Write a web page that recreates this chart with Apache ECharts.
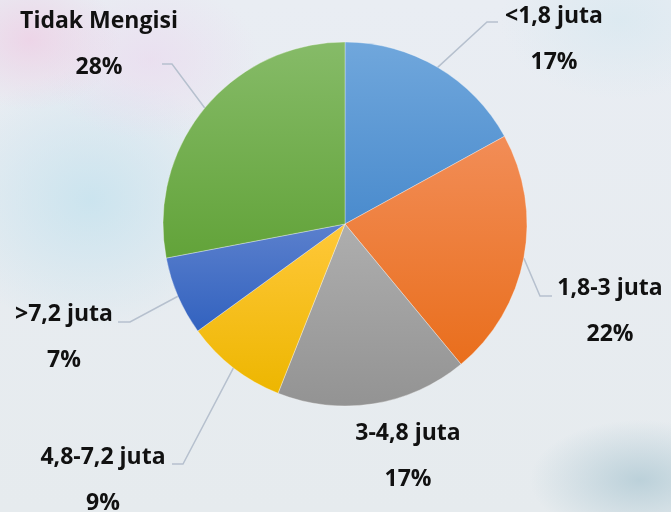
<!DOCTYPE html>
<html>
<head>
<meta charset="utf-8">
<script src="https://cdn.jsdelivr.net/npm/echarts@6/dist/echarts.min.js"></script>
<style>
  html, body { margin: 0; padding: 0; }
  body {
    width: 671px; height: 512px; overflow: hidden;
    background:
      radial-gradient(ellipse 90px 70px at 30px 40px, rgba(238, 205, 228, 0.75), rgba(238, 205, 228, 0) 100%),
      radial-gradient(ellipse 110px 80px at 150px 60px, rgba(235, 215, 238, 0.6), rgba(235, 215, 238, 0) 100%),
      radial-gradient(ellipse 150px 130px at 90px 200px, rgba(196, 226, 238, 0.8), rgba(196, 226, 238, 0) 100%),
      radial-gradient(ellipse 110px 60px at 640px 480px, rgba(180, 204, 214, 0.85), rgba(180, 204, 214, 0) 100%),
      radial-gradient(ellipse 120px 80px at 620px 20px, rgba(215, 232, 240, 0.7), rgba(215, 232, 240, 0) 100%),
      linear-gradient(#E9EDF3, #E6EBEE);
  }
  #chart { width: 671px; height: 512px; }
</style>
</head>
<body>
<div id="chart"></div>
<script>
// Pendapatan per bulan (share of respondents)
const categories = ['<1,8 juta', '1,8-3 juta', '3-4,8 juta', '4,8-7,2 juta', '>7,2 juta', 'Tidak Mengisi'];
const percentages = [17, 22, 17, 9, 7, 28];

// Office-style fills: lighter at the top of each slice, darker at the bottom
const topColors = ['#70A7DC', '#F28D57', '#AEAEAE', '#FFC83A', '#5B80CD', '#86BB68'];
const bottomColors = ['#4A8BCD', '#E96E1C', '#939393', '#EDB600', '#3262BF', '#62A339'];

// where each label block sits: centre x, centre of the first text line
const labelSpots = [[554, 17], [610, 289], [408, 434], [103, 458], [64, 315], [99, 22]];
// bend and end of each leader line (null = no leader line)
const leaderEnds = [
  [[487, 22], [498, 22]],
  [[540, 296], [552, 296]],
  null,
  [[183, 464], [172, 464]],
  [[130, 322], [118, 322]],
  [[172, 64], [162, 64]]
];

const chart = echarts.init(document.getElementById('chart'), null, { renderer: 'canvas' });

const pieData = categories.map((name, i) => ({
  name: name,
  value: percentages[i],
  itemStyle: {
    color: new echarts.graphic.LinearGradient(0, 0, 0, 1, [
      { offset: 0, color: topColors[i] },
      { offset: 1, color: bottomColors[i] }
    ])
  },
  labelLine: { show: leaderEnds[i] !== null }
}));

const textStyle = { fontFamily: 'Open Sans', fontWeight: 'bold', fontSize: 23, lineHeight: 46, align: 'center', color: '#111' };

chart.setOption({
  backgroundColor: 'transparent',
  animation: false,
  series: [{
    type: 'pie',
    center: [345, 224],
    radius: 182,
    startAngle: 90,
    clockwise: true,
    avoidLabelOverlap: false,
    emphasis: { disabled: true },
    itemStyle: { borderColor: 'rgba(255,255,255,0.55)', borderWidth: 0.6 },
    label: {
      show: true,
      position: 'outside',
      formatter: '{n|{b}}\n{p|{c}%}',
      color: '#111',
      rich: { n: textStyle, p: textStyle }
    },
    labelLine: {
      show: true,
      length: 20,
      length2: 10,
      lineStyle: { color: '#B6C0CE', width: 1.5 }
    },
    labelLayout: function (p) {
      const i = p.dataIndex;
      const spot = labelSpots[i];
      const out = { x: spot[0], y: spot[1] - 24, align: 'center', verticalAlign: 'top', hideOverlap: false };
      if (leaderEnds[i] && p.labelLinePoints) {
        out.labelLinePoints = [p.labelLinePoints[0], leaderEnds[i][0], leaderEnds[i][1]];
      }
      return out;
    },
    data: pieData
  }]
});
</script>
</body>
</html>
